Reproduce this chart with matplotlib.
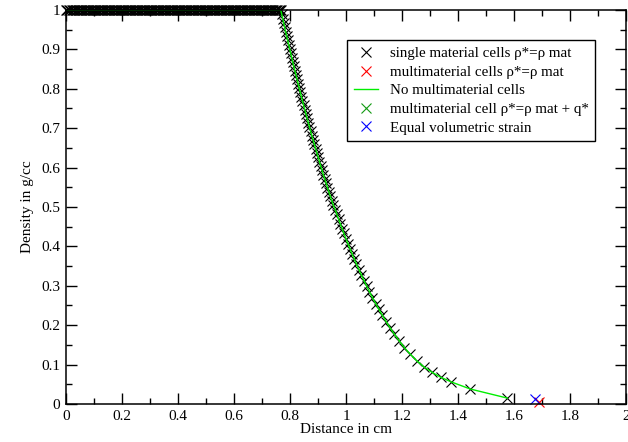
import matplotlib
matplotlib.use("Agg")
import matplotlib.pyplot as plt
from matplotlib.ticker import MultipleLocator, FormatStrFormatter

plt.rcParams.update({
    "font.family": ["Liberation Serif", "DejaVu Serif"],
    "font.size": 11,
    "axes.linewidth": 1.1,
    "xtick.direction": "in",
    "ytick.direction": "in",
    "xtick.top": True,
    "ytick.right": True,
    "xtick.major.size": 8,
    "ytick.major.size": 8,
    "xtick.minor.size": 4.5,
    "ytick.minor.size": 4.5,
    "xtick.major.width": 1.0,
    "ytick.major.width": 1.0,
    "xtick.minor.width": 1.0,
    "ytick.minor.width": 1.0,
})

# undisturbed cells sitting at full density
flat_x = [0.000, 0.005, 0.010, 0.015, 0.020, 0.025, 0.030, 0.035, 0.040, 0.045,
          0.050, 0.055, 0.060, 0.065, 0.070, 0.075, 0.080, 0.085, 0.090, 0.095,
          0.100, 0.105, 0.110, 0.115, 0.120, 0.125, 0.130, 0.135, 0.140, 0.145,
          0.150, 0.155, 0.160, 0.165, 0.170, 0.175, 0.180, 0.185, 0.190, 0.195,
          0.200, 0.205, 0.210, 0.215, 0.220, 0.225, 0.230, 0.235, 0.240, 0.245,
          0.250, 0.255, 0.260, 0.265, 0.270, 0.275, 0.280, 0.285, 0.290, 0.295,
          0.300, 0.305, 0.310, 0.315, 0.320, 0.325, 0.330, 0.335, 0.340, 0.345,
          0.350, 0.355, 0.360, 0.365, 0.370, 0.375, 0.380, 0.385, 0.390, 0.395,
          0.400, 0.405, 0.410, 0.415, 0.420, 0.425, 0.430, 0.435, 0.440, 0.445,
          0.450, 0.455, 0.460, 0.465, 0.470, 0.475, 0.480, 0.485, 0.490, 0.495,
          0.500, 0.505, 0.510, 0.515, 0.520, 0.525, 0.530, 0.535, 0.540, 0.545,
          0.550, 0.555, 0.560, 0.565, 0.570, 0.575, 0.580, 0.585, 0.590, 0.595,
          0.600, 0.605, 0.610, 0.615, 0.620, 0.625, 0.630, 0.635, 0.640, 0.645,
          0.650, 0.655, 0.660, 0.665, 0.670, 0.675, 0.680, 0.685, 0.690, 0.695,
          0.700, 0.705, 0.710, 0.715, 0.720, 0.725, 0.730, 0.735, 0.740, 0.745,
          0.750, 0.755, 0.760, 0.764]
flat_rho = [1.0] * len(flat_x)

# cells inside the rarefaction
fan_x = [0.7670, 0.7704, 0.7738, 0.7773, 0.7808, 0.7843, 0.7879, 0.7914,
         0.7951, 0.7986, 0.8023, 0.8060, 0.8097, 0.8134, 0.8172, 0.8210,
         0.8248, 0.8287, 0.8326, 0.8366, 0.8406, 0.8445, 0.8486, 0.8527,
         0.8568, 0.8610, 0.8652, 0.8695, 0.8737, 0.8781, 0.8824, 0.8869,
         0.8913, 0.8958, 0.9004, 0.9050, 0.9097, 0.9144, 0.9192, 0.9241,
         0.9290, 0.9339, 0.9390, 0.9441, 0.9492, 0.9546,
         0.9615, 0.9674, 0.9735, 0.9797, 0.9860, 0.9924, 0.9995, 1.0067,
         1.0141, 1.0217, 1.0294, 1.0373, 1.0460, 1.0550, 1.0642, 1.0738,
         1.0836, 1.0945, 1.1058, 1.1175, 1.1298, 1.1434, 1.1578, 1.1730,
         1.1902, 1.2087, 1.230, 1.252, 1.277, 1.306, 1.338, 1.376,
         1.444, 1.576]
fan_rho = [1.000, 0.989, 0.978, 0.967, 0.956, 0.945, 0.934, 0.923,
           0.912, 0.901, 0.890, 0.879, 0.868, 0.857, 0.846, 0.835,
           0.824, 0.813, 0.802, 0.791, 0.780, 0.769, 0.758, 0.747,
           0.736, 0.725, 0.714, 0.703, 0.692, 0.681, 0.670, 0.659,
           0.648, 0.637, 0.626, 0.615, 0.604, 0.593, 0.582, 0.571,
           0.560, 0.549, 0.538, 0.527, 0.516, 0.505,
           0.493, 0.481, 0.469, 0.457, 0.445, 0.433, 0.420, 0.407,
           0.394, 0.381, 0.368, 0.355, 0.341, 0.327, 0.313, 0.299,
           0.285, 0.270, 0.255, 0.240, 0.225, 0.209, 0.193, 0.177,
           0.160, 0.143, 0.126, 0.110, 0.095, 0.081, 0.068, 0.056,
           0.038, 0.015]

# interface cell, two treatments
multi_x = [1.690]
multi_rho = [0.005]
strain_x = [1.675]
strain_rho = [0.012]

single_x = flat_x + fan_x
single_rho = flat_rho + fan_rho

fig = plt.figure(figsize=(6.28, 4.42), dpi=100)
ax = fig.add_axes([66 / 628, 1 - 404 / 442, 560 / 628, 394 / 442])

mk = dict(marker="x", linestyle="none", markersize=6.5, markeredgewidth=0.8)
ax.plot(single_x, single_rho, color="black", clip_on=False,
        label="single material cells \u03c1*=\u03c1 mat", **mk)
ax.plot(multi_x, multi_rho, color="red", clip_on=False,
        label="multimaterial cells \u03c1*=\u03c1 mat", **mk)
ax.plot(single_x, single_rho, color="#00ee00", linewidth=1.0,
        label="No multimaterial cells")
ax.plot([], [], color="#119911",
        label="multimaterial cell \u03c1*=\u03c1 mat + q*", **mk)
ax.plot(strain_x, strain_rho, color="blue", clip_on=False,
        label="Equal volumetric strain", **mk)

ax.set_xlim(0, 2)
ax.set_ylim(0, 1)
ax.xaxis.set_major_locator(MultipleLocator(0.2))
ax.xaxis.set_minor_locator(MultipleLocator(0.1))
ax.yaxis.set_major_locator(MultipleLocator(0.1))
ax.yaxis.set_minor_locator(MultipleLocator(0.05))
ax.xaxis.set_major_formatter(FormatStrFormatter("%g"))
ax.yaxis.set_major_formatter(FormatStrFormatter("%g"))
ax.tick_params(axis="both", which="major", pad=4)

ax.set_xlabel("Distance in cm", labelpad=0)
ax.set_ylabel("Density in g/cc", labelpad=5)

leg = ax.legend(loc="upper left", bbox_to_anchor=(0.502, 0.924),
                fontsize=10.8, frameon=True, fancybox=False,
                edgecolor="black", framealpha=1, borderpad=0.45,
                labelspacing=0.34, handlelength=1.6, handletextpad=0.8,
                borderaxespad=0)
leg.get_frame().set_linewidth(1.0)

fig.savefig("out.png", dpi=100)
